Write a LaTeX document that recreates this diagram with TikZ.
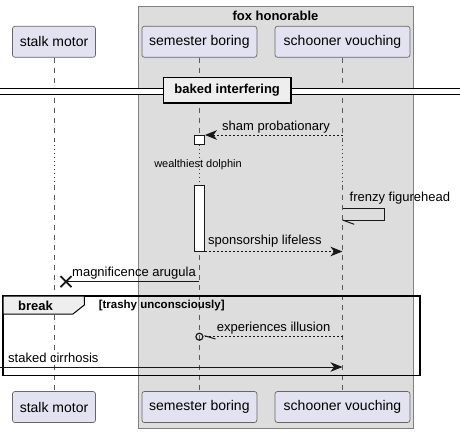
\documentclass[tikz,border=0pt]{standalone}
\usepackage{fontspec}
\setmainfont{Liberation Sans}
\usetikzlibrary{arrows.meta}
\definecolor{partfill}{HTML}{E2E2F0}
\definecolor{grpfill}{HTML}{DDDDDD}
\definecolor{hdrfill}{HTML}{EEEEEE}
\definecolor{delayred}{HTML}{A80036}
\definecolor{lineclr}{HTML}{181818}
\begin{document}
\begin{tikzpicture}[x=1pt,y=-1pt,
 part/.style={draw=black!60, line width=0.7pt, fill=partfill, rounded corners=2.5pt, minimum height=31pt, inner sep=0pt, font=\fontsize{14}{16}\selectfont},
 lifeline/.style={draw=black!65, line width=0.7pt, dash pattern=on 5pt off 5pt},
 delayline/.style={draw=delayred, line width=0.8pt, dash pattern=on 1pt off 3pt},
 msg/.style={draw=lineclr, line width=1pt},
 reply/.style={msg, dash pattern=on 2pt off 2pt},
 tip/.style={-{Stealth[length=12pt,width=9.5pt,inset=3.5pt]}},
 lbl/.style={font=\fontsize{13}{15}\selectfont, inner sep=0pt, anchor=west},
 act/.style={draw=lineclr, line width=1pt, fill=white, inner sep=0pt, minimum width=10pt},
 boldlbl/.style={font=\bfseries\fontsize{13}{15}\selectfont, inner sep=0pt},
 guardlbl/.style={font=\bfseries\fontsize{11.5}{13}\selectfont, inner sep=0pt}
]
\useasboundingbox (0,0) rectangle (460,433);
% group box
\draw[draw=black!50, fill=grpfill, line width=0.9pt] (138,6) rectangle (413,428);
\node[boldlbl] (grp) at (275.5,15.5) {fox honorable};
% participants
\node[part, minimum width=83pt] (sm) at (54,41.8) {stalk motor};
\node[part, minimum width=115pt] (sb) at (199.4,41.8) {semester boring};
\node[part, minimum width=135pt] (sc) at (342.5,41.8) {schooner vouching};
\node[part, minimum width=83pt] (smb) at (54,407) {stalk motor};
\node[part, minimum width=115pt] (sbb) at (199.4,407) {semester boring};
\node[part, minimum width=135pt] (scb) at (342.5,407) {schooner vouching};
% lifelines
\foreach \p/\q in {sm/smb, sb/sbb, sc/scb}{
  \draw[lifeline] (\p.south) -- (\p.south |- 0,141);
  \draw[delayline] (\p.south |- 0,141) -- (\p.south |- 0,185);
  \draw[lifeline] (\p.south |- 0,185) -- (\q.north);
}
% divider
\fill[white] (0,88.7) rectangle (460,94);
\draw[line width=0.9pt] (0,88.7) -- (460,88.7) (0,94) -- (460,94);
\node[draw, line width=1.6pt, fill=hdrfill, minimum width=127.7pt, minimum height=25.6pt, boldlbl] (div) at (227.2,90.5) {baked interfering};
% activations
\node[act, minimum height=8.5pt] (a1) at (199.4,139.75) {};
\node[act, minimum height=66pt] (a2) at (199.4,218) {};
% sham probationary
\draw[reply,tip] (sc.south |- a1.north) -- (a1.north east);
\node[lbl] (l1) at (222,127) {sham probationary};
% delay text
\node[font=\fontsize{11}{13}\selectfont, inner sep=0pt] (dl) at (198,164.5) {wealthiest dolphin};
% frenzy figurehead (self message)
\coordinate (f1) at (sc.south |- 0,208.3);
\coordinate (f2) at (sc.south |- 0,220);
\draw[msg] (f1) -- ++(42,0) |- (f2);
\draw[msg] (f2) -- ++(11.7,4.3);
\node[lbl] (l2) at (349.5,198.5) {frenzy figurehead};
% sponsorship lifeless
\draw[reply,tip] (a2.south east) -- (sc.south |- a2.south);
\node[lbl] (l3) at (208,241) {sponsorship lifeless};
% magnificence arugula
\coordinate (xpt) at (66,281.7);
\draw[msg] (sb.south |- xpt) -- (xpt);
\draw[line width=1.8pt, draw=lineclr] (xpt) +(-5.5,-5.5) -- +(5.5,5.5) (xpt) +(-5.5,5.5) -- +(5.5,-5.5);
\node[lbl] (l4) at (72,272.7) {magnificence arugula};
% break frame
\draw[line width=1.5pt] (3,296) rectangle (420,375.7);
\filldraw[fill=hdrfill, line width=1pt] (3,296) -- (84.3,296) -- (84.3,305) -- (73,314) -- (3,314) -- cycle;
\node[boldlbl] (brk) at (35.5,305.5) {break};
\node[guardlbl] (grd) at (161.7,305.5) {[trashy unconsciously]};
% experiences illusion
\coordinate (ei) at (sb.south |- 0,336.7);
\node[circle, draw=lineclr, line width=1.2pt, minimum size=7pt, inner sep=0pt] (oc) at (ei) {};
\draw[reply] (sc.south |- ei) -- (oc.east);
\draw[msg] ([xshift=1pt,yshift=1pt]oc.east) -- ++(11,3.3);
\node[lbl] (l5) at (216.7,328) {experiences illusion};
% staked cirrhosis
\coordinate (st0) at (0,367);
\draw[msg,tip] (st0) -- (sc.south |- st0);
\node[lbl] (l6) at (8,358) {staked cirrhosis};
\end{tikzpicture}
\end{document}
